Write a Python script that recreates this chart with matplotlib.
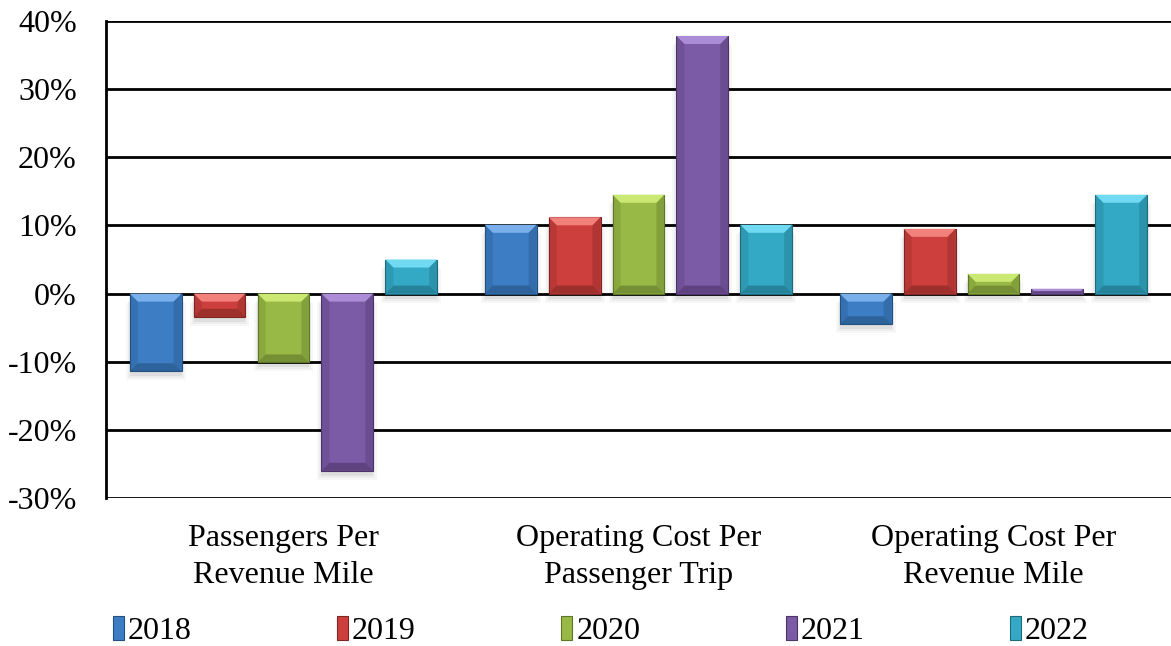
import matplotlib
matplotlib.use("Agg")
import matplotlib.pyplot as plt
from matplotlib.patches import Polygon, Rectangle, Patch
import numpy as np

# data (percent change)
categories = ["Passengers Per\nRevenue Mile",
              "Operating Cost Per\nPassenger Trip",
              "Operating Cost Per\nRevenue Mile"]
years = ["2018", "2019", "2020", "2021", "2022"]
v2018 = [-11.4, 10.1, -4.5]
v2019 = [-3.4, 11.2, 9.5]
v2020 = [-10.1, 14.5, 2.9]
v2021 = [-26.0, 37.8, 0.7]
v2022 = [5.0, 10.1, 14.5]
yticks = [-30, -20, -10, 0, 10, 20, 30, 40]

series = [v2018, v2019, v2020, v2021, v2022]
# base, light (top bevel), dark (bottom bevel)
colors = [("#3C7DC4", "#79B0EC", "#24507F"),
          ("#CD3F3C", "#F2807B", "#7D2523"),
          ("#98B946", "#CBE872", "#5E7629"),
          ("#7B5BA6", "#AA8DD6", "#4B3468"),
          ("#33A9C6", "#70DAF2", "#1E6A7D")]

plt.rcParams['font.family'] = ['Liberation Serif', 'DejaVu Serif']
FS = 23

fig = plt.figure(figsize=(11.71, 6.46), dpi=100)
ax = fig.add_axes([0.0905, 0.229, 0.9095, 0.7385])

x = np.arange(len(categories))
width = 0.146
step = 0.18

ax.set_xlim(-0.5, len(categories) - 0.5)
ax.set_ylim(-30, 40)

# pixel -> data scale for bevels and shadows
p0 = ax.transData.transform((0, 0))
p1 = ax.transData.transform((1, 1))
px_x = 1.0 / (p1[0] - p0[0])
px_y = 1.0 / (p1[1] - p0[1])

bev = 8
for i, vals in enumerate(series):
    base, light, dark = colors[i]
    xs = x + (i - 2) * step
    for xc, v in zip(xs, vals):
        x0, x1 = xc - width / 2, xc + width / 2
        lo, hi = min(0, v), max(0, v)
        h_px = (hi - lo) / px_y
        d = min(bev, h_px / 2)
        dx, dy = d * px_x, d * px_y
        # soft shadow below the bar
        for k, a in enumerate([0.06, 0.04, 0.03]):
            grow = k * 2
            ax.add_patch(Rectangle((x0 - grow * px_x, lo - (5 + grow) * px_y),
                                   (x1 - x0) + 2 * grow * px_x,
                                   (hi - lo),
                                   facecolor="black", alpha=a, linewidth=0, zorder=2))
        ax.add_patch(Rectangle((x0, lo), x1 - x0, hi - lo, facecolor=base,
                               edgecolor=dark, linewidth=0.8, zorder=3))
        # bevel faces
        ax.add_patch(Polygon([(x0, hi), (x1, hi), (x1 - dx, hi - dy), (x0 + dx, hi - dy)],
                             facecolor=light, linewidth=0, zorder=4))
        ax.add_patch(Polygon([(x0, lo), (x1, lo), (x1 - dx, lo + dy), (x0 + dx, lo + dy)],
                             facecolor=dark, alpha=0.6, linewidth=0, zorder=4))
        ax.add_patch(Polygon([(x0, lo), (x0 + dx, lo + dy), (x0 + dx, hi - dy), (x0, hi)],
                             facecolor=dark, alpha=0.25, linewidth=0, zorder=4))
        ax.add_patch(Polygon([(x1, lo), (x1 - dx, lo + dy), (x1 - dx, hi - dy), (x1, hi)],
                             facecolor=dark, alpha=0.35, linewidth=0, zorder=4))

ax.set_yticks(yticks)
ax.set_yticklabels([f"{t}%" for t in yticks], fontsize=FS)
ax.set_xticks(x)
ax.set_xticklabels(categories, fontsize=FS, linespacing=1.35)
ax.tick_params(axis="both", length=0)
ax.tick_params(axis="y", pad=21)
ax.tick_params(axis="x", pad=19)

ax.grid(axis="y", color="black", linewidth=2, zorder=1)
ax.set_axisbelow(True)
for s in ["top", "right", "bottom"]:
    ax.spines[s].set_visible(False)
ax.spines["left"].set_linewidth(2)

handles = [Patch(facecolor=c[0], edgecolor=c[2], linewidth=0.8) for c in colors]
fig.legend(handles, years, loc="center", bbox_to_anchor=(0.513, 0.023), ncol=5,
           frameon=False, fontsize=FS, handlelength=0.35, handleheight=0.75,
           handletextpad=0.12, columnspacing=4.55)

fig.savefig("out.png", dpi=100)
